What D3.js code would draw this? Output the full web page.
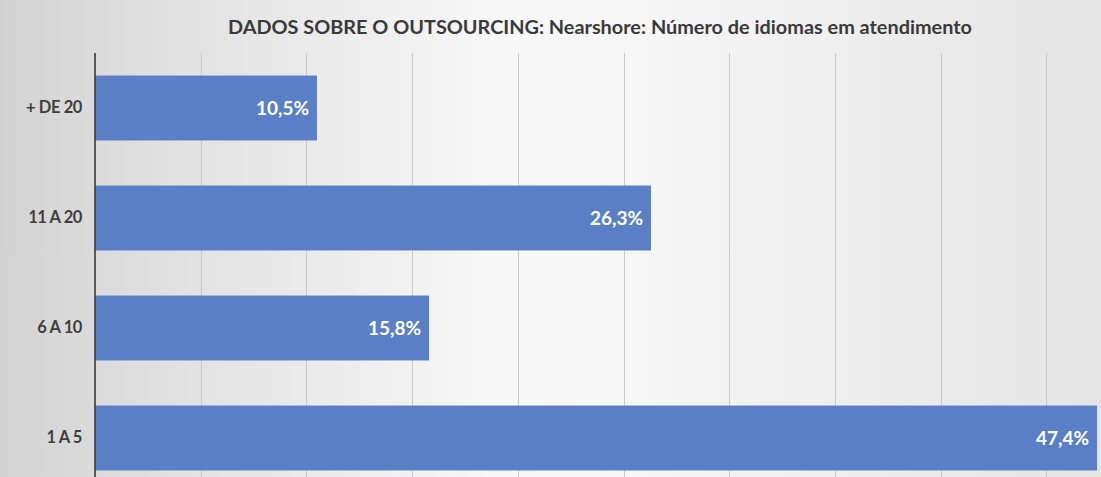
<!DOCTYPE html>
<html>
<head>
<meta charset="utf-8">
<script src="https://cdn.jsdelivr.net/npm/d3@7"></script>
<style>
  html, body { margin: 0; padding: 0; background: #fff; }
  svg { display: block; font-family: Lato, "Open Sans", sans-serif; }
</style>
</head>
<body>
<div id="chart"></div>
<script>
// data
var categories = ["+ DE 20", "11 A 20", "6 A 10", "1 A 5"];
var values = [10.5, 26.3, 15.8, 47.4];
var gridTicks = [0, 5, 10, 15, 20, 25, 30, 35, 40, 45];
var title = "DADOS SOBRE O OUTSOURCING: Nearshore: Número de idiomas em atendimento";

var W = 1101, H = 477;
var margin = {top: 53, left: 95};
var plotH = 440;

var svg = d3.select("#chart").append("svg")
  .attr("width", W).attr("height", H);

// background gradient (grey at edges, light in the middle)
var defs = svg.append("defs");
var grad = defs.append("linearGradient").attr("id", "bg")
  .attr("x1", 0).attr("x2", 1).attr("y1", 0).attr("y2", 0);
grad.append("stop").attr("offset", "0%").attr("stop-color", "#d3d3d3");
grad.append("stop").attr("offset", "12%").attr("stop-color", "#dedede");
grad.append("stop").attr("offset", "45%").attr("stop-color", "#f7f7f7");
grad.append("stop").attr("offset", "60%").attr("stop-color", "#f5f5f5");
grad.append("stop").attr("offset", "100%").attr("stop-color", "#e4e4e4");
svg.append("rect").attr("width", W).attr("height", H).attr("fill", "url(#bg)");

// scales: 5% step is ~105.7px, chart is cut at the right edge
var x = d3.scaleLinear().domain([0, 50]).range([margin.left, margin.left + 1057]);
var y = d3.scaleBand().domain(categories)
  .range([margin.top, margin.top + plotH])
  .paddingInner(0.41).paddingOuter(0.205);

// vertical gridlines
svg.append("g").selectAll("line").data(gridTicks.slice(1)).join("line")
  .attr("x1", d => Math.round(x(d)) + 0.5).attr("x2", d => Math.round(x(d)) + 0.5)
  .attr("y1", margin.top).attr("y2", H)
  .attr("stroke", "#c9c9c9").attr("stroke-width", 1);

// bars
svg.append("g").selectAll("rect").data(values).join("rect")
  .attr("x", x(0))
  .attr("y", (d, i) => y(categories[i]))
  .attr("width", d => x(d) - x(0))
  .attr("height", y.bandwidth())
  .attr("fill", "#5a7fc7");

// value labels
svg.append("g").selectAll("text").data(values).join("text")
  .attr("x", d => x(d) - 8)
  .attr("y", (d, i) => y(categories[i]) + y.bandwidth() / 2)
  .attr("dy", "0.36em")
  .attr("text-anchor", "end")
  .attr("fill", "#ffffff")
  .style("font-size", "19px").style("font-weight", "bold")
  .text(d => d3.format(".1f")(d).replace(".", ",") + "%");

// y axis
var yAxis = svg.append("g")
  .attr("transform", "translate(" + margin.left + ",0)")
  .call(d3.axisLeft(y).tickSize(0).tickPadding(13));
yAxis.select(".domain").attr("stroke", "#3a3a3a").attr("stroke-width", 1.6)
  .attr("d", "M0," + margin.top + "V" + H);
yAxis.selectAll("text")
  .attr("fill", "#3f3f3f")
  .attr("font-size", null)
  .style("font-family", "Lato, 'Open Sans', sans-serif")
  .style("font-size", "16.5px").style("font-weight", "bold")
  .style("letter-spacing", "-0.4px");

// title
svg.append("text")
  .attr("x", 600).attr("y", 34)
  .attr("text-anchor", "middle")
  .attr("fill", "#3a3a3a")
  .style("font-size", "18.5px").style("font-weight", "bold")
  .attr("textLength", 744).attr("lengthAdjust", "spacingAndGlyphs")
  .text(title);
</script>
</body>
</html>
